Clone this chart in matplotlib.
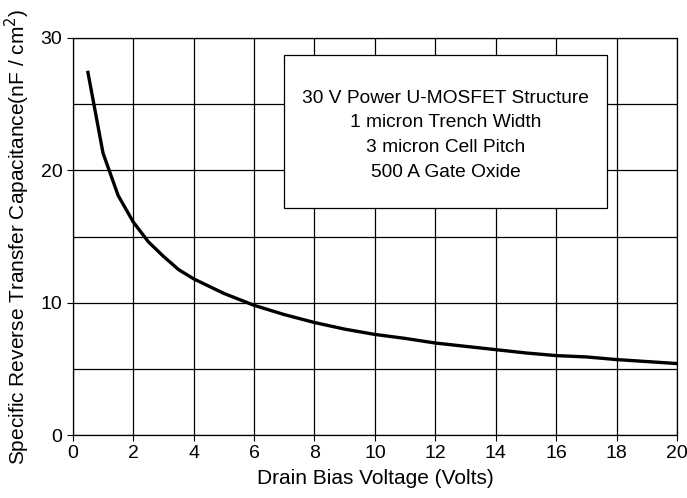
import matplotlib.pyplot as plt
from matplotlib.patches import Rectangle

plt.rcParams['font.family'] = ['Liberation Sans', 'DejaVu Sans']

# drain bias voltage (V) and specific reverse transfer capacitance (nF/cm^2)
voltage = [0.5, 1.0, 1.5, 2.0, 2.5, 3.0, 3.5, 4.0, 5.0, 6.0, 7.0, 8.0, 9.0,
           10.0, 11.0, 12.0, 13.0, 14.0, 15.0, 16.0, 17.0, 18.0, 19.0, 20.0]
capacitance = [27.4, 21.3, 18.1, 16.1, 14.6, 13.5, 12.5, 11.8, 10.7, 9.8, 9.1,
               8.5, 8.0, 7.6, 7.3, 6.95, 6.7, 6.45, 6.2, 6.0, 5.9, 5.7, 5.55, 5.4]

box_lines = ["30 V Power U-MOSFET Structure",
             "1 micron Trench Width",
             "3 micron Cell Pitch",
             "500 A Gate Oxide"]

fig = plt.figure(figsize=(6.87, 4.98), dpi=100)
ax = fig.add_axes([0.106, 0.1265, 0.8794, 0.7972])

ax.set_xlim(0, 20)
ax.set_ylim(0, 30)
ax.set_xticks(range(0, 21, 2))
ax.set_yticks([0, 10, 20, 30])
ax.set_yticks([5, 15, 25], minor=True)
ax.grid(True, which='both', color='black', linewidth=0.9)
ax.tick_params(which='major', direction='out', length=4, labelsize=14, colors='black')
ax.tick_params(which='minor', length=0)
ax.tick_params(axis='x', pad=3)
for s in ax.spines.values():
    s.set_linewidth(0.9)

ax.plot(voltage, capacitance, color='black', linewidth=2.4, zorder=3)

ax.add_patch(Rectangle((7.0, 17.15), 10.7, 11.55, facecolor='white',
                       edgecolor='black', linewidth=0.9, zorder=4))
ax.text(12.35, 22.65, "\n".join(box_lines), ha='center', va='center',
        fontsize=13.8, linespacing=1.6, zorder=5)

ax.set_xlabel('Drain Bias Voltage (Volts)', fontsize=15, labelpad=5)
ax.set_ylabel('Specific Reverse Transfer Capacitance(nF / cm$^2$)', fontsize=15, labelpad=6)

fig.savefig('out.png', dpi=100)
